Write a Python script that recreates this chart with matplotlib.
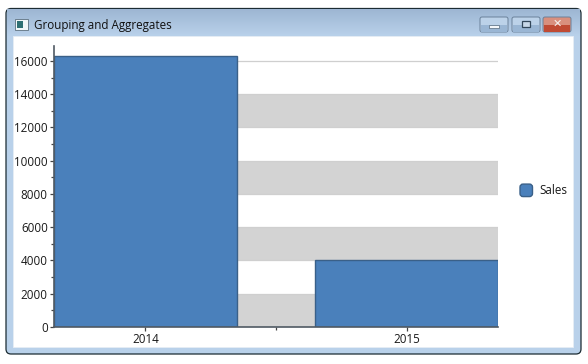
#!/usr/bin/env python
# -*- coding=UTF-8 -*-
"""Grouping and Aggregates column chart inside a Windows 7 style window"""
import matplotlib
matplotlib.use('Agg')
import matplotlib.pyplot as plt
from matplotlib.colors import LinearSegmentedColormap
from matplotlib.legend_handler import HandlerPatch
from matplotlib.patches import FancyBboxPatch, Rectangle
from matplotlib.ticker import MultipleLocator
import numpy

title = "Grouping and Aggregates"
years = ["2014", "2015"]
sales = [16300, 4050]
series_name = "Sales"
y_ticks = [0, 2000, 4000, 6000, 8000, 10000, 12000, 14000, 16000]

BAR = "#4a80bb"
EDGE = "#3a6088"
BAND = "#d3d3d3"
TEXT = "#1a1a1a"
FONT_SIZE = 8.4
W, H = 588, 364

plt.rcParams['font.family'] = ['Open Sans', 'DejaVu Sans']
plt.rcParams['font.size'] = FONT_SIZE

figure = plt.figure(figsize=(W / 100, H / 100), dpi=100, facecolor="white")


def px_box(left, top, right, bottom):
    """figure fraction rectangle from pixel edges, y counted from the top"""
    return [left / W, 1 - bottom / H, (right - left) / W, (bottom - top) / H]


# window frame, everything here is in pixels
chrome = figure.add_axes([0, 0, 1, 1], zorder=0)
chrome.axis("off")

chrome.add_patch(FancyBboxPatch((6, 8.5), 575, 345.5, boxstyle="round,pad=0,rounding_size=5",
                                fc="#b9d1ea", ec="#1c2c33", lw=0.9))
gradient = numpy.linspace(0, 1, 30).reshape(-1, 1)
title_bar = chrome.imshow(gradient, extent=(7, 580, 36, 9.5), aspect="auto", zorder=1,
                          cmap=LinearSegmentedColormap.from_list("bar", ["#9db6d3", "#b9d1ea"]))
chrome.set_xlim(0, W)
chrome.set_ylim(H, 0)
chrome.add_patch(Rectangle((12.5, 36), 560.5, 311, fc="white", ec="#e6edf5", lw=0.6, zorder=2))
chrome.text(34, 25, title, fontsize=FONT_SIZE, color="#111111", va="center", zorder=3)

# title icon
chrome.add_patch(Rectangle((15, 19), 13, 11, fc="#f2f6f8", ec="#5c7080", lw=0.6, zorder=3))
chrome.add_patch(Rectangle((17, 21), 6, 7, fc="#2f6f73", ec="none", zorder=4))

# window buttons
for left, width, top_colour, bottom_colour in [(480, 28, "#bcd2e9", "#9ab6d4"),
                                               (512, 28, "#bcd2e9", "#9ab6d4"),
                                               (543, 28, "#d98f7e", "#c04a34")]:
    chrome.add_patch(FancyBboxPatch((left, 17), width, 15, boxstyle="round,pad=0,rounding_size=2",
                                    fc=top_colour, ec="#6a819a", lw=0.7, zorder=3))
    chrome.add_patch(Rectangle((left + 1, 25), width - 2, 6.5, fc=bottom_colour, ec="none", zorder=4))
chrome.add_patch(Rectangle((489, 25), 10, 3, fc="#f4f7fa", ec="#55697c", lw=0.5, zorder=5))
chrome.add_patch(Rectangle((522, 21), 8, 6, fc="#c8d8e8", ec="#33475a", lw=0.9, zorder=5))
chrome.text(557, 24, "✕", fontsize=8, fontweight="bold", color="#f6f0ee", family="DejaVu Sans",
            ha="center", va="center", zorder=5)

# the chart
axes = figure.add_axes(px_box(54, 46, 498, 327), zorder=1)
axes.patch.set_alpha(0)
positions = numpy.arange(len(years))
axes.set_xlim(-0.35, 1.35)
axes.set_ylim(0, 16900)

for low, high in zip(y_ticks[:-1:2], y_ticks[1::2]):
    axes.axhspan(low, high, fc=BAND, ec="none", zorder=1)
for tick in y_ticks:
    axes.axhline(tick, color="#cfcfcf", lw=0.9, zorder=1)

bars = axes.bar(positions, sales, width=0.7, color=BAR, edgecolor=EDGE, linewidth=1.0,
                label=series_name, zorder=2)

axes.set_xticks(positions, years)
axes.xaxis.set_minor_locator(MultipleLocator(0.5))
axes.set_yticks(y_ticks)
axes.yaxis.set_minor_locator(MultipleLocator(1000))
axes.tick_params(axis="both", which="major", length=3, width=0.9, color="#444444",
                 labelcolor=TEXT, labelsize=FONT_SIZE, pad=1.5)
axes.tick_params(axis="both", which="minor", length=2, width=0.9, color="#444444")
for side in ["top", "right"]:
    axes.spines[side].set_visible(False)
for side in ["left", "bottom"]:
    axes.spines[side].set_color("#505a64")
    axes.spines[side].set_linewidth(1.2)


def rounded_swatch(legend, orig_handle, xdescent, ydescent, width, height, fontsize):
    return FancyBboxPatch((0, -1.5), 9, 9, boxstyle="round,pad=0,rounding_size=2.2")


legend = axes.legend(handles=[bars[0]], labels=[series_name], frameon=False, loc="center left",
                     bbox_to_anchor=(520 / W, 1 - 191 / H), bbox_transform=figure.transFigure,
                     borderpad=0, borderaxespad=0, handlelength=1.1, handletextpad=0.55, fontsize=FONT_SIZE,
                     handler_map={bars[0]: HandlerPatch(patch_func=rounded_swatch)})
for text in legend.get_texts():
    text.set_color(TEXT)

figure.savefig("out.png", dpi=100)
